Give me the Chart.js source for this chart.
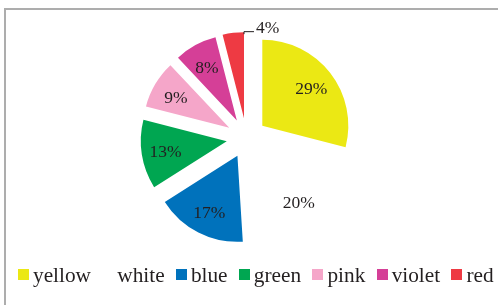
<!DOCTYPE html>
<html>
<head>
<meta charset="utf-8">
<script src="https://cdn.jsdelivr.net/npm/chart.js@4/dist/chart.umd.min.js"></script>
<style>
  html, body { margin: 0; padding: 0; background: #fff; overflow: hidden; }
  #wrap { position: relative; width: 498px; height: 305px; }
  #frame {
    position: absolute; left: 4px; top: 8px; width: 600px; height: 400px;
    border-left: 2px solid #adadad; border-top: 2px solid #adadad;
  }
  #pie { position: absolute; left: 0; top: 0; }
  #legend {
    position: absolute; left: 18px; top: 265px; white-space: nowrap;
    font: 21.3px 'Liberation Serif', 'Times New Roman', serif; line-height: 21px; color: #231f20;
  }
  #legend .item { display: inline-block; margin-right: 11.3px; }
  #legend .box {
    display: inline-block; width: 11px; height: 11px; margin: 0 4px 2px 0; vertical-align: baseline;
  }
</style>
</head>
<body>
<div id="wrap">
  <div id="frame"></div>
  <canvas id="pie" width="498" height="305"></canvas>
  <div id="legend"></div>
</div>
<script>
(() => {
  'use strict';

  const labels = ['yellow', 'white', 'blue', 'green', 'pink', 'violet', 'red'];
  const shares = [29, 20, 17, 13, 9, 8, 4];
  const colors = ['#ebe814', '#ffffff', '#0072bc', '#00a651', '#f5a6c9', '#d53f97', '#ee3a43'];

  const EXPLODE = 20;
  const textColor = '#231f20';

  // pull every slice out along its middle angle, then let the arc draw itself
  const explode = {
    id: 'explode',
    beforeDatasetDraw(chart, args) {
      const ctx = chart.ctx;
      args.meta.data.forEach(arc => {
        const mid = (arc.startAngle + arc.endAngle) / 2;
        ctx.save();
        ctx.translate(Math.cos(mid) * EXPLODE, Math.sin(mid) * EXPLODE);
        arc.draw(ctx);
        ctx.restore();
      });
      return false;
    }
  };

  const pctLabels = {
    id: 'pctLabels',
    afterDatasetsDraw(chart) {
      const ctx = chart.ctx;
      const arcs = chart.getDatasetMeta(0).data;
      ctx.save();
      ctx.fillStyle = textColor;
      ctx.strokeStyle = textColor;
      ctx.font = "17.5px 'Liberation Serif', serif";
      arcs.forEach((arc, i) => {
        const { x, y, startAngle, endAngle, outerRadius } = arc;
        const mid = (startAngle + endAngle) / 2;
        const ox = x + Math.cos(mid) * EXPLODE;
        const oy = y + Math.sin(mid) * EXPLODE;
        const txt = shares[i] + '%';
        if (shares[i] < 5) {
          // small slice: label outside with a short leader
          const px = ox + Math.cos(endAngle) * outerRadius;
          const py = oy + Math.sin(endAngle) * outerRadius;
          ctx.lineWidth = 1;
          ctx.beginPath();
          ctx.moveTo(px, py + 2);
          ctx.lineTo(px, py - 0.5);
          ctx.lineTo(px + 10, py - 0.5);
          ctx.stroke();
          ctx.textAlign = 'left';
          ctx.textBaseline = 'alphabetic';
          ctx.fillText(txt, px + 12, py + 1);
        } else {
          const r = outerRadius * 0.72;
          ctx.textAlign = 'center';
          ctx.textBaseline = 'middle';
          ctx.fillText(txt, ox + Math.cos(mid) * r, oy + Math.sin(mid) * r + 2);
        }
      });
      ctx.restore();
    }
  };

  new Chart(document.getElementById('pie'), {
    type: 'pie',
    data: {
      labels,
      datasets: [{
        data: shares,
        backgroundColor: colors,
        borderWidth: 0,
        radius: 86
      }]
    },
    options: {
      responsive: false,
      animation: false,
      devicePixelRatio: 1,
      layout: { padding: { left: 0, right: 5, top: 0, bottom: 29 } },
      plugins: {
        legend: { display: false },
        tooltip: { enabled: false }
      },
      events: []
    },
    plugins: [explode, pctLabels]
  });

  const legendEl = document.getElementById('legend');
  labels.forEach((lab, i) => {
    const item = document.createElement('span');
    item.className = 'item';
    const box = document.createElement('span');
    box.className = 'box';
    box.style.background = colors[i];
    item.appendChild(box);
    item.appendChild(document.createTextNode(lab));
    legendEl.appendChild(item);
  });
})();
</script>
</body>
</html>
